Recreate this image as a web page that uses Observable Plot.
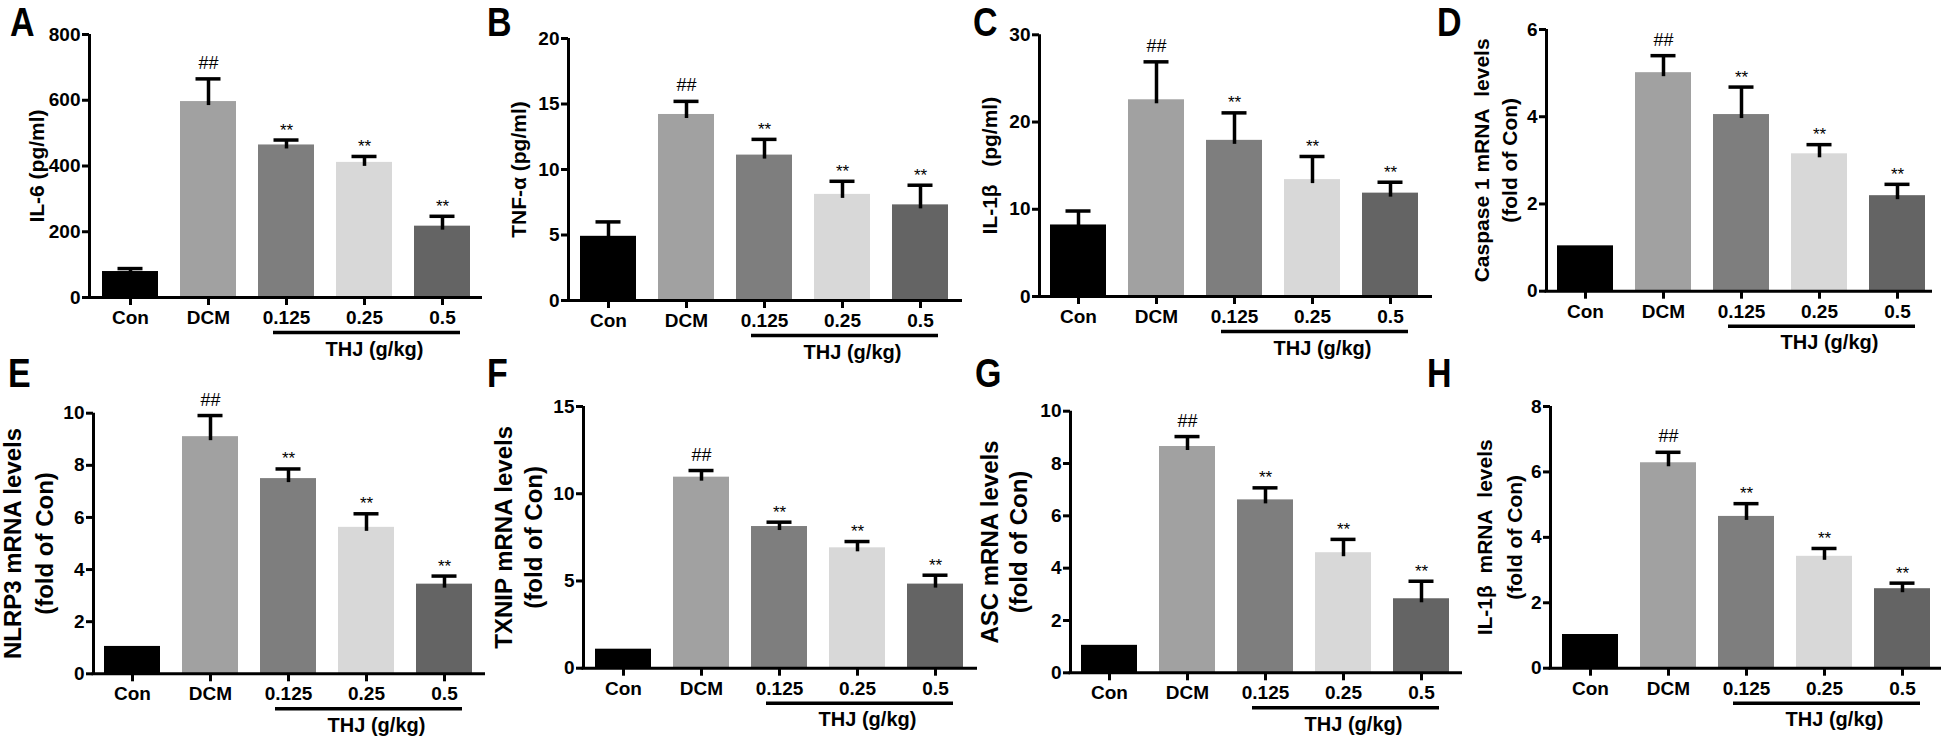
<!DOCTYPE html>
<html><head><meta charset="utf-8">
<script src="https://cdn.jsdelivr.net/npm/d3@7"></script>
<script src="https://cdn.jsdelivr.net/npm/@observablehq/plot@0.6"></script>
<style>
html,body{margin:0;padding:0;background:#fff;}
#fig{position:relative;width:1943px;height:740px;overflow:hidden;font-family:Arial,"Liberation Sans",sans-serif;}
.panel{position:absolute;}
.panel svg{overflow:visible;}
.letter{position:absolute;font-weight:bold;font-size:40px;line-height:normal;transform:scaleX(0.85);transform-origin:0 0;color:#000;}
</style></head><body><div id="fig"></div>
<script>
// ---- data ----
const groups = ["Con", "DCM", "0.125", "0.25", "0.5"];
const sigMarks = ["", "##", "**", "**", "**"];
const barColors = ["#000000", "#a1a1a1", "#7e7e7e", "#d8d8d8", "#646464"];
const thjLabel = "THJ (g/kg)";

const il6Mean = [79, 596, 464, 411, 217];
const il6Err = [9, 69, 15, 18, 30];
const tnfMean = [4.9, 14.2, 11.1, 8.1, 7.3];
const tnfErr = [1.1, 1.0, 1.2, 1.0, 1.5];
const il1bMean = [8.2, 22.55, 17.9, 13.4, 11.85];
const il1bErr = [1.6, 4.35, 3.15, 2.65, 1.25];
const casp1Mean = [1.04, 5.01, 4.05, 3.15, 2.19];
const casp1Err = [0, 0.39, 0.63, 0.21, 0.26];
const nlrp3Mean = [1.05, 9.1, 7.49, 5.62, 3.44];
const nlrp3Err = [0, 0.81, 0.37, 0.52, 0.31];
const txnipMean = [1.09, 10.95, 8.12, 6.9, 4.82];
const txnipErr = [0, 0.38, 0.25, 0.36, 0.51];
const ascMean = [1.05, 8.65, 6.61, 4.59, 2.83];
const ascErr = [0, 0.38, 0.46, 0.51, 0.67];
const il1bMrnaMean = [1.03, 6.28, 4.64, 3.42, 2.43];
const il1bMrnaErr = [0, 0.32, 0.39, 0.24, 0.17];

const ticksA = [0, 200, 400, 600, 800];
const ticksB = [0, 5, 10, 15, 20];
const ticksC = [0, 10, 20, 30];
const ticksD = [0, 2, 4, 6];
const ticksE = [0, 2, 4, 6, 8, 10];
const ticksF = [0, 5, 10, 15];
const ticksG = [0, 2, 4, 6, 8, 10];
const ticksH = [0, 2, 4, 6, 8];

const letters = ["A", "B", "C", "D", "E", "F", "G", "H"];
const titles = [
  "IL-6 (pg/ml)",
  "TNF-\u03b1 (pg/ml)",
  "IL-1\u03b2\u00a0\u00a0\u00a0(pg/ml)",
  "Caspase 1 mRNA\u00a0\u00a0levels\n(fold of Con)",
  "NLRP3 mRNA levels\n(fold of Con)",
  "TXNIP mRNA levels\n(fold of Con)",
  "ASC mRNA levels\n(fold of Con)",
  "IL-1\u03b2\u00a0\u00a0mRNA\u00a0\u00a0levels\n(fold of Con)"
];
const means = [il6Mean, tnfMean, il1bMean, casp1Mean, nlrp3Mean, txnipMean, ascMean, il1bMrnaMean];
const errs = [il6Err, tnfErr, il1bErr, casp1Err, nlrp3Err, txnipErr, ascErr, il1bMrnaErr];
const tickSets = [ticksA, ticksB, ticksC, ticksD, ticksE, ticksF, ticksG, ticksH];

// ---- layout (pixels) ----
const layout = [
  {left: 0,    top: 0,   axisX: 89,   xEnd: 482,  yTop: 34,    y0: 297,   conLeft: 102,  tDx: -54,   tSize: 21, tLH: 1.3, lx: 10,   ly: 0},
  {left: 480,  top: 0,   axisX: 568,  xEnd: 962,  yTop: 38,    y0: 300,   conLeft: 580,  tDx: -51,   tSize: 21, tLH: 1.3, lx: 487,  ly: 0},
  {left: 965,  top: 0,   axisX: 1039, xEnd: 1432, yTop: 34.3,  y0: 296,   conLeft: 1050, tDx: -51,   tSize: 21, tLH: 1.3, lx: 973,  ly: 0},
  {left: 1440, top: 0,   axisX: 1546, xEnd: 1932, yTop: 29,    y0: 290.7, conLeft: 1557, tDx: -52,   tSize: 21, tLH: 1.33, lx: 1437, ly: 0},
  {left: 0,    top: 370, axisX: 93,   xEnd: 485,  yTop: 412.7, y0: 673.3, conLeft: 104,  tDx: -67,   tSize: 24, tLH: 1.33, lx: 8,    ly: 351},
  {left: 480,  top: 370, axisX: 583,  xEnd: 977,  yTop: 406,   y0: 667.7, conLeft: 595,  tDx: -66,   tSize: 24, tLH: 1.25, lx: 487,  ly: 351},
  {left: 965,  top: 370, axisX: 1070, xEnd: 1462, yTop: 410.7, y0: 672.3, conLeft: 1081, tDx: -67.5, tSize: 24, tLH: 1.2, lx: 975,  ly: 351},
  {left: 1440, top: 370, axisX: 1550, xEnd: 1941, yTop: 406,   y0: 667.7, conLeft: 1562, tDx: -53,   tSize: 21, tLH: 1.45, lx: 1427, ly: 351}
];

const fig = document.getElementById("fig");
const FONT = 'Arial, "Liberation Sans", Helvetica, sans-serif';
const BW = 56; // bar width in px

layout.forEach((p, k) => {
  const rows = groups.map((g, i) => ({
    group: g, mean: means[k][i], err: errs[k][i], cap: means[k][i] + errs[k][i], sig: sigMarks[i]
  }));
  const withErr = rows.filter(d => d.err > 0);
  const H = 370;
  const W = p.xEnd - p.left + 2;
  const mL = p.axisX - p.left, mR = 2, mT = p.yTop - p.top, mB = H - (p.y0 - p.top);
  const x0 = p.conLeft - p.left;
  const ticks = tickSets[k];
  const ymax = ticks[ticks.length - 1];
  const chart = Plot.plot({
    width: W, height: H,
    marginLeft: mL, marginRight: mR, marginTop: mT, marginBottom: mB,
    style: {fontFamily: FONT, fontSize: "19px", fontWeight: "bold", color: "#000", background: "transparent", overflow: "visible"},
    x: {type: "band", domain: groups, range: [x0, x0 + 368], paddingInner: 22 / 78, paddingOuter: 0, align: 0.5},
    y: {domain: [0, ymax]},
    color: {type: "ordinal", domain: groups, range: barColors},
    marks: [
      Plot.barY(rows, {x: "group", y: "mean", fill: "group"}),
      Plot.ruleX(withErr, {x: "group", y1: "cap", y2: "mean", stroke: "#000", strokeWidth: 3.5, insetBottom: -4}),
      Plot.tickY(withErr, {x: "group", y: "cap", stroke: "#000", strokeWidth: 3.5, insetLeft: 15.5, insetRight: 15.5}),
      Plot.text(rows.filter(d => d.sig === "##"), {x: "group", y: "cap", text: "sig", lineAnchor: "bottom", dy: -10, fontSize: 18, fontWeight: "normal"}),
      Plot.text(rows.filter(d => d.sig === "**"), {x: "group", y: "cap", text: "sig", lineAnchor: "bottom", dy: -4.5, fontSize: 17, fontWeight: "normal"}),
      Plot.axisY({ticks: ticks, tickFormat: "d", tickSize: 7, tickPadding: 2, strokeWidth: 3, label: null, fontSize: 19}),
      Plot.axisX({tickSize: 8, tickPadding: 5, strokeWidth: 3, label: null, fontSize: 19}),
      // y-axis line: placed at the left edge of the frame, beside the first band
      Plot.ruleX([{g: groups[0], a: 0, b: ymax}], {x: "g", y1: "a", y2: "b", dx: -(BW / 2 + (p.conLeft - p.axisX)), strokeWidth: 3}),
      // x-axis line
      Plot.ruleY([0], {strokeWidth: 3, insetLeft: -1.5}),
      Plot.ruleY([{from: groups[2], to: groups[4], v: 0}], {y: "v", x1: "from", x2: "to", dy: 35, strokeWidth: 3.5, insetLeft: 15, insetRight: 10}),
      Plot.text([{g: groups[3], v: 0, t: thjLabel}], {x: "g", y: "v", text: "t", dy: 58, dx: 10, lineAnchor: "bottom", fontSize: 20, fontWeight: "bold"}),
      Plot.text([titles[k]], {frameAnchor: "left", text: d => d, rotate: -90, dx: p.tDx, fontSize: p.tSize, lineHeight: p.tLH, lineAnchor: "middle", textAnchor: "middle", fontWeight: "bold"})
    ]
  });
  const wrap = document.createElement("div");
  wrap.className = "panel";
  wrap.style.left = p.left + "px";
  wrap.style.top = p.top + "px";
  wrap.appendChild(chart);
  fig.appendChild(wrap);

  const L = document.createElement("div");
  L.className = "letter";
  L.textContent = letters[k];
  L.style.left = p.lx + "px";
  L.style.top = p.ly + "px";
  fig.appendChild(L);
});
</script>
</body></html>
